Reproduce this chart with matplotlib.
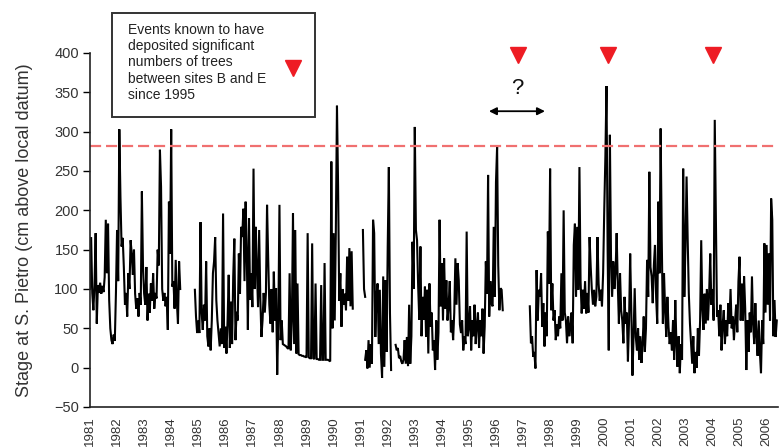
import numpy as np
import matplotlib
matplotlib.use('Agg')
import matplotlib.pyplot as plt
from matplotlib.patches import Rectangle

plt.rcParams['font.family'] = ['Liberation Sans', 'DejaVu Sans']

# Half-monthly stage readings (cm), one list per continuous record
STEP = 1.0 / 24

seg_a_start = 1981.0
seg_a = [
    # 1981
    100, 166, 95, 73, 105, 171, 56, 105, 95, 108, 94, 104,
    96, 115, 188, 120, 183, 86, 50, 35, 30, 42, 34, 95,
    # 1982
    175, 110, 303, 217, 154, 165, 128, 80, 95, 65, 120, 100,
    162, 145, 118, 150, 94, 75, 88, 65, 95, 80, 224, 128,
    # 1983
    94, 80, 128, 60, 94, 70, 107, 85, 120, 75, 95, 88,
    150, 130, 277, 230, 100, 85, 95, 78, 90, 48, 211, 145,
    # 1984
    303, 103, 110, 75, 137, 84, 56, 135, 100,
]

seg_b_start = 1984.0 + 21 * STEP
seg_b = [
    99, 65, 44,
    # 1985
    60, 44, 185, 70, 48, 80, 60, 135, 40, 27, 50, 22,
    60, 120, 135, 166, 86, 60, 44, 27, 50, 30, 196, 25,
    # 1986
    52, 18, 60, 118, 25, 84, 30, 116, 164, 35, 71, 60,
    145, 94, 179, 166, 202, 110, 211, 145, 48, 190, 86, 120,
    # 1987
    77, 253, 100, 179, 124, 77, 175, 90, 39, 60, 95, 70,
    95, 207, 139, 80, 56, 100, 45, 122, 60, 101, -9, 60,
    # 1988
    207, 35, 60, 30, 29, 28, 27, 25, 24, 120, 22, 60,
    196, 30, 175, 18, 107, 17, 16, 16, 15, 15, 14, 14,
    # 1989
    13, 171, 13, 12, 12, 158, 12, 11, 107, 11, 11, 10,
    10, 105, 10, 10, 133, 10, 10, 10, 9, 8, 262, 50,
    # 1990
    171, 60, 175, 333, 230, 85, 120, 52, 100, 80, 94, 73,
    141, 85, 152, 78, 148, 75,
]

seg_c_start = 1991.0 + 2 * STEP
seg_c = [175, 100, 90]

seg_d_start = 1991.0 + 4 * STEP
seg_d = [
    # 1991
    10, 22, -1, 35, 0, 30, 5, 188, 171, 39,
    90, 107, 30, 99, 18, -13, 116, 1, 111, 20,
    # 1992
    154, 255, 69, -3,
]

seg_e_start = 1992.0 + 7 * STEP
seg_e = [
    # 1992
    29, 22, 25, 12, 15, 8, 5, 10, 35, 5, 39, 2, 80, 5, 40, 160, 100,
    # 1993
    306, 175, 162, 103, 61, 154, 40, 90, 61, 103, 39, 99,
    18, 107, 52, 70, 22, 35, -3, 60, 10, 45, 188, 78,
    # 1994
    133, 60, 139, 75, 111, 60, 78, 110, 45, 60, 35, 70,
    139, 80, 133, 111, 55, 44, 60, 22, 40, 30, 173, 40,
    # 1995
    52, 78, 22, 60, 40, 80, 30, 55, 70, 25, 60, 40,
    75, 18, 52, 135, 94, 245, 65, 110, 82, 78, 179, 90,
    # 1996
    236, 281, 130, 73, 101, 99, 73,
]

seg_f_start = 1997.0 + 6 * STEP
seg_f = [
    # 1997
    78, 31, 40, 14, 20, -1, 124, 60, 99, 90, 120, 52, 82, 27, 70, 40, 173, 107,
    # 1998
    253, 73, 107, 60, 73, 35, 55, 40, 65, 50, 120, 60,
    200, 70, 60, 31, 65, 40, 52, 70, 31, 156, 183, 90,
    # 1999
    179, 99, 255, 110, 69, 99, 75, 110, 69, 95, 70, 166,
    128, 99, 80, 99, 78, 90, 166, 107, 85, 99, 78, 120,
    # 2000
    200, 268, 358, 150, 22, 296, 141, 90, 135, 100, 120, 171,
    107, 56, 120, 73, 60, 31, 90, 56, 70, 8, 60, 145,
    # 2001
    73, -10, 40, 101, 39, 22, 50, 10, 40, 6, 30, 65,
    20, 50, 137, 90, 249, 128, 116, 82, 130, 156, 90, 56,
    # 2002
    211, 120, 304, 162, 56, 120, 73, 39, 90, 52, 30, 45,
    22, 60, 10, 86, 30, 1, 40, -7, 30, 10, 253, 90,
    # 2003
    154, 243, 162, 94, 56, 30, 5, 40, -7, 20, 0, 50,
    15, 60, 162, 73, 48, 94, 56, 100, 60, 94, 145, 80,
    # 2004
    100, 60, 315, 194, 65, 73, 40, 80, 22, 55, 73, 30,
    60, 40, 82, 56, 100, 50, 65, 35, 60, 80, 45, 110,
    # 2005
    141, 60, 107, 60, 116, 75, -3, 60, 20, 70, 45, 116,
    55, 30, 82, 40, 15, 60, 20, -7, 60, 30, 158, 70,
    # 2006
    156, 80, 145, 60, 215, 188, 40, 86, 39, 60,
]

segments = [(seg_a_start, seg_a), (seg_b_start, seg_b), (seg_c_start, seg_c),
            (seg_d_start, seg_d), (seg_e_start, seg_e), (seg_f_start, seg_f)]

threshold = 282
event_years = [1996.8, 2000.15, 2004.03]
event_level = 397
years = list(range(1981, 2007))

W, H = 779, 447
fig = plt.figure(figsize=(W / 100, H / 100), dpi=100)
ax = fig.add_axes([90 / W, 1 - 407 / H, 688 / W, 354 / H])

for start, vals in segments:
    t = start + STEP * np.arange(len(vals))
    ax.plot(t, vals, color='black', linewidth=1.5, solid_joinstyle='miter')

ax.axhline(threshold, color='#f07070', linewidth=1.6, linestyle=(0, (5, 2.2)))

ax.plot(event_years, [event_level] * len(event_years), linestyle='none',
        marker='v', markersize=11.5, color='#ee1c24', clip_on=False)

# uncertain timing window
ax.annotate('', xy=(1995.74, 326), xytext=(1997.81, 326),
            arrowprops=dict(arrowstyle='<|-|>', color='black', lw=1.3,
                            mutation_scale=11, shrinkA=0, shrinkB=0))
ax.text(1996.8, 355, '?', ha='center', va='center', fontsize=16, color='#111111')

ax.set_xlim(1981, 2006.42)
ax.set_ylim(-50, 400)
ax.set_yticks(range(-50, 401, 50))
ax.set_xticks(years)
ax.set_xticklabels([str(y) for y in years], rotation=90, fontsize=9.5,
                   color='#333333')
ax.tick_params(axis='x', length=0, pad=7)
ax.tick_params(axis='y', length=5, width=1, direction='out', labelsize=10.5,
               labelcolor='#333333', pad=3)
for s in ['top', 'right']:
    ax.spines[s].set_visible(False)
for s in ['left', 'bottom']:
    ax.spines[s].set_linewidth(1.2)
    ax.spines[s].set_color('#222222')
ax.set_ylabel('Stage at S. Pietro (cm above local datum)', fontsize=13,
              color='#333333', labelpad=15)

# key box
fig.patches.append(Rectangle((112 / W, 1 - 117 / H), 203 / W, 104 / H,
                             transform=fig.transFigure, fill=False,
                             edgecolor='#333333', linewidth=1.4))
fig.text(128 / W, 1 - 23 / H,
         'Events known to have\ndeposited significant\nnumbers of trees\n'
         'between sites B and E\nsince 1995',
         ha='left', va='top', fontsize=10, color='#222222', linespacing=1.2)
fig.lines.append(plt.Line2D([293 / W], [1 - 68 / H], transform=fig.transFigure,
                            linestyle='none', marker='v', markersize=11,
                            color='#ee1c24'))

fig.savefig('out.png', dpi=100)
